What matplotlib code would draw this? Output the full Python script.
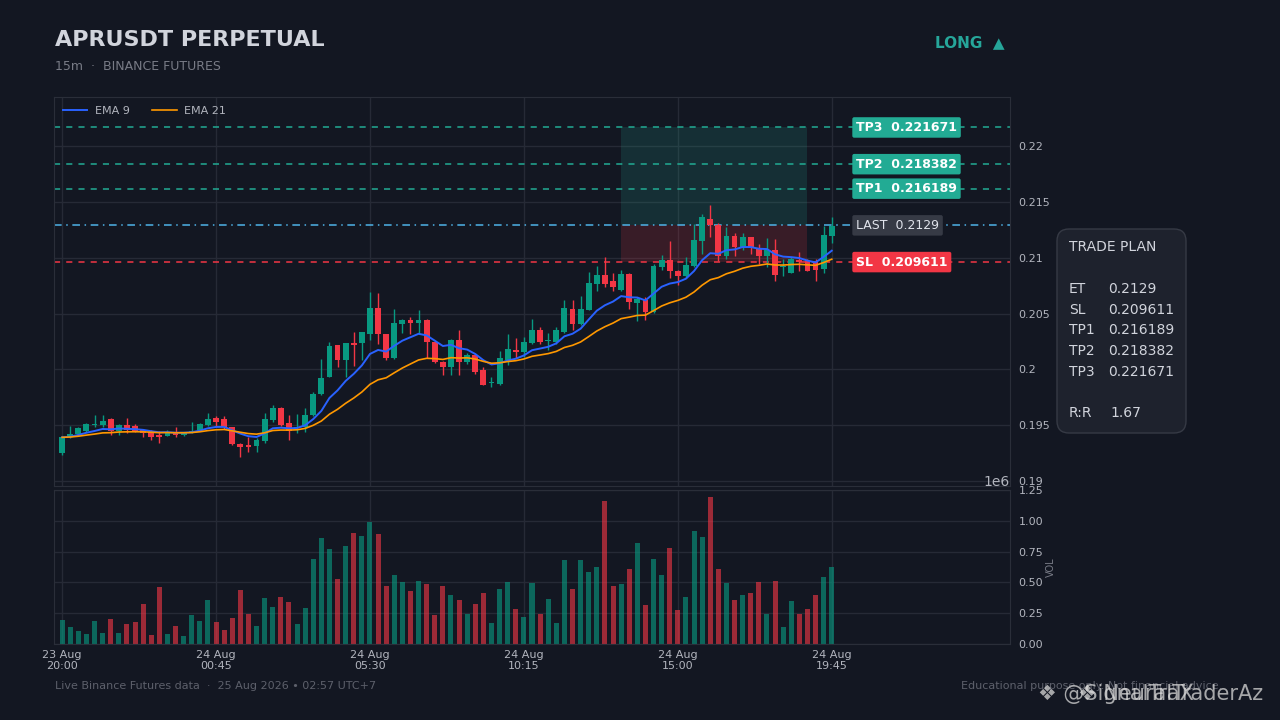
import matplotlib
matplotlib.use("Agg")
import matplotlib.pyplot as plt
import numpy as np
import pandas as pd
from matplotlib.patches import FancyBboxPatch
from matplotlib.ticker import FuncFormatter

# --- data (15m candles, 23 Aug 20:00 -> 24 Aug 19:45) ---
opens = [0.19248, 0.19391, 0.19420, 0.19451, 0.19499, 0.19499, 0.19556, 0.19451, 0.19499, 0.19493,
         0.19457, 0.19442, 0.19413, 0.19406, 0.19442, 0.19413, 0.19433, 0.19457, 0.19505, 0.19562,
         0.19556, 0.19487, 0.19331, 0.19325, 0.19313, 0.19361, 0.19546, 0.19653, 0.19517, 0.19475,
         0.19487, 0.19594, 0.19778, 0.19933, 0.20217, 0.20083, 0.20238, 0.20232, 0.20316, 0.20549,
         0.20313, 0.20104, 0.20405, 0.20441, 0.20417, 0.20441, 0.20247, 0.20068, 0.20018, 0.20261,
         0.20068, 0.20128, 0.19990, 0.19878, 0.19869, 0.20083, 0.20172, 0.20154, 0.20238, 0.20357,
         0.20253, 0.20247, 0.20336, 0.20545, 0.20410, 0.20536, 0.20769, 0.20843, 0.20792, 0.20709,
         0.20852, 0.20590, 0.20620, 0.20515, 0.20915, 0.20984, 0.20880, 0.20835, 0.20927, 0.21151,
         0.21351, 0.21297, 0.21013, 0.21199, 0.21100, 0.21184, 0.21079, 0.21013, 0.21067, 0.20915,
         0.20867, 0.20984, 0.20975, 0.20960, 0.20903, 0.21195]
closes = [0.19391, 0.19420, 0.19474, 0.19511, 0.19511, 0.19538, 0.19451, 0.19499, 0.19457, 0.19451,
          0.19433, 0.19397, 0.19397, 0.19442, 0.19413, 0.19433, 0.19451, 0.19511, 0.19556, 0.19532,
          0.19487, 0.19331, 0.19307, 0.19307, 0.19367, 0.19556, 0.19653, 0.19499, 0.19451, 0.19487,
          0.19594, 0.19778, 0.19921, 0.20208, 0.20083, 0.20235, 0.20214, 0.20337, 0.20549, 0.20316,
          0.20104, 0.20417, 0.20441, 0.20411, 0.20441, 0.20247, 0.20068, 0.20018, 0.20261, 0.20068,
          0.20128, 0.19979, 0.19860, 0.19890, 0.20098, 0.20181, 0.20157, 0.20244, 0.20357, 0.20247,
          0.20265, 0.20357, 0.20548, 0.20410, 0.20545, 0.20775, 0.20843, 0.20769, 0.20739, 0.20852,
          0.20604, 0.20634, 0.20515, 0.20924, 0.20984, 0.20883, 0.20835, 0.20933, 0.21157, 0.21366,
          0.21291, 0.21013, 0.21199, 0.21100, 0.21184, 0.21094, 0.21019, 0.21067, 0.20843, 0.20927,
          0.20987, 0.20963, 0.20885, 0.20891, 0.21207, 0.21285]
highs = [0.19404, 0.19491, 0.19486, 0.19517, 0.19588, 0.19588, 0.19565, 0.19511, 0.19565, 0.19511,
         0.19470, 0.19460, 0.19448, 0.19455, 0.19487, 0.19440, 0.19531, 0.19517, 0.19612, 0.19580,
         0.19580, 0.19487, 0.19340, 0.19397, 0.19385, 0.19606, 0.19680, 0.19665, 0.19588, 0.19600,
         0.19650, 0.19800, 0.20094, 0.20244, 0.20217, 0.20235, 0.20331, 0.20337, 0.20695, 0.20681,
         0.20320, 0.20543, 0.20450, 0.20470, 0.20534, 0.20450, 0.20250, 0.20075, 0.20270, 0.20357,
         0.20150, 0.20140, 0.20020, 0.19930, 0.20166, 0.20321, 0.20285, 0.20291, 0.20447, 0.20380,
         0.20330, 0.20380, 0.20625, 0.20625, 0.20655, 0.20873, 0.20924, 0.21007, 0.20860, 0.20888,
         0.20860, 0.20650, 0.20650, 0.20942, 0.21028, 0.21148, 0.20890, 0.21007, 0.21306, 0.21390,
         0.21473, 0.21310, 0.21273, 0.21220, 0.21220, 0.21190, 0.21120, 0.21178, 0.21172, 0.20990,
         0.21005, 0.21050, 0.20990, 0.20990, 0.21288, 0.21366]
lows = [0.19233, 0.19385, 0.19404, 0.19442, 0.19487, 0.19487, 0.19413, 0.19413, 0.19427, 0.19440,
        0.19391, 0.19367, 0.19343, 0.19400, 0.19397, 0.19405, 0.19430, 0.19450, 0.19490, 0.19487,
        0.19470, 0.19322, 0.19212, 0.19260, 0.19263, 0.19340, 0.19530, 0.19490, 0.19367, 0.19430,
        0.19440, 0.19580, 0.19770, 0.19930, 0.20023, 0.19933, 0.20029, 0.20080, 0.20262, 0.20230,
        0.20080, 0.20095, 0.20330, 0.20320, 0.20320, 0.20098, 0.20053, 0.19951, 0.19951, 0.19950,
        0.20050, 0.19958, 0.19857, 0.19840, 0.19860, 0.20038, 0.20100, 0.20110, 0.20225, 0.20230,
        0.20170, 0.20230, 0.20330, 0.20350, 0.20395, 0.20530, 0.20700, 0.20739, 0.20700, 0.20700,
        0.20545, 0.20435, 0.20441, 0.20505, 0.20890, 0.20814, 0.20754, 0.20820, 0.20920, 0.21033,
        0.21187, 0.20974, 0.20990, 0.21020, 0.21070, 0.21030, 0.20945, 0.20915, 0.20793, 0.20840,
        0.20860, 0.20880, 0.20880, 0.20793, 0.20861, 0.21136]
volumes = [0.196, 0.139, 0.106, 0.082, 0.188, 0.090, 0.204, 0.090, 0.163, 0.180,
           0.327, 0.074, 0.466, 0.082, 0.147, 0.065, 0.237, 0.188, 0.360, 0.180,
           0.114, 0.212, 0.441, 0.240, 0.147, 0.376, 0.302, 0.384, 0.343, 0.163,
           0.294, 0.686, 0.858, 0.768, 0.531, 0.792, 0.899, 0.874, 0.991, 0.890,
           0.474, 0.564, 0.507, 0.433, 0.515, 0.490, 0.237, 0.474, 0.400, 0.360,
           0.240, 0.327, 0.417, 0.172, 0.449, 0.507, 0.286, 0.221, 0.493, 0.240,
           0.368, 0.172, 0.678, 0.449, 0.678, 0.588, 0.629, 1.160, 0.474, 0.490,
           0.605, 0.817, 0.319, 0.686, 0.564, 0.776, 0.278, 0.384, 0.915, 0.866,
           1.193, 0.605, 0.493, 0.360, 0.400, 0.417, 0.507, 0.240, 0.515, 0.139,
           0.351, 0.240, 0.286, 0.400, 0.547, 0.629]  # millions

start_time = "2026-08-23 20:00"
entry_price = 0.2129
stop_loss = 0.209611
tp_names = ["TP1", "TP2", "TP3"]
tp_levels = [0.216189, 0.218382, 0.221671]
zone_start, zone_end = 69, 92
tick_idx = [0, 19, 38, 57, 76, 95]

BG = "#131722"
GRID = "#262a36"
UP = "#089981"
DOWN = "#f23645"
TP_COL = "#22ab94"
TXT = "#b2b5be"
DIM = "#787b86"


def ema(values, span):
    return pd.Series(values).ewm(span=span, adjust=False).mean().to_numpy()


def main():
    o = np.array(opens)
    c = np.array(closes)
    h = np.array(highs)
    l = np.array(lows)
    v = np.array(volumes) * 1e6
    x = np.arange(len(c))
    times = pd.date_range(start_time, periods=len(c), freq="15min")
    up = c >= o

    fig = plt.figure(figsize=(12.8, 7.2), dpi=100, facecolor=BG)
    ax = fig.add_axes([54 / 1280, 1 - 486 / 720, 956 / 1280, 389 / 720], facecolor=BG)
    axv = fig.add_axes([54 / 1280, 1 - 644 / 720, 956 / 1280, 154 / 720], facecolor=BG, sharex=ax)

    for a in (ax, axv):
        for s in a.spines.values():
            s.set_color("#2a2e39")
        a.grid(True, color=GRID, linewidth=1)
        a.set_axisbelow(True)
        a.yaxis.tick_right()
        a.tick_params(colors=TXT, labelsize=8, length=0, pad=6)

    # trade zones
    ax.fill_between([zone_start, zone_end], entry_price, tp_levels[-1], color=TP_COL, alpha=0.17, lw=0)
    ax.fill_between([zone_start, zone_end], stop_loss, entry_price, color=DOWN, alpha=0.17, lw=0)

    # candles
    cols = np.where(up, UP, DOWN)
    ax.vlines(x, l, h, colors=cols, linewidth=1, zorder=3)
    body = np.maximum(np.abs(c - o), 0.00004)
    ax.bar(x, body, bottom=np.minimum(o, c), width=0.72, color=cols, zorder=4)

    ax.plot(x, ema(c, 9), color="#2962ff", lw=1.4, label="EMA 9", zorder=5)
    ax.plot(x, ema(c, 21), color="#ff9800", lw=1.2, label="EMA 21", zorder=5)

    # levels
    for name, lvl in zip(tp_names, tp_levels):
        ax.axhline(lvl, color=TP_COL, lw=1.1, ls=(0, (4, 4)), zorder=2)
        ax.text(98, lvl, f"{name}  {lvl:g}", color="white", fontsize=9, fontweight="bold",
                va="center", ha="left", zorder=6,
                bbox=dict(boxstyle="round,pad=0.3,rounding_size=0.15", fc=TP_COL, ec="none"))
    ax.axhline(entry_price, color="#4fb3e8", lw=1.1, ls=(0, (5, 3, 1, 3)), zorder=2)
    ax.text(98, entry_price, f"LAST  {entry_price:g}", color="#e0e3eb", fontsize=9,
            va="center", ha="left", zorder=6,
            bbox=dict(boxstyle="round,pad=0.3,rounding_size=0.15", fc="#363a45", ec="none"))
    ax.axhline(stop_loss, color=DOWN, lw=1.1, ls=(0, (4, 4)), zorder=2)
    ax.text(98, stop_loss, f"SL  {stop_loss:g}", color="white", fontsize=9, fontweight="bold",
            va="center", ha="left", zorder=6,
            bbox=dict(boxstyle="round,pad=0.3,rounding_size=0.15", fc=DOWN, ec="none"))

    ax.set_xlim(-1, 117)
    ax.set_ylim(0.18955, 0.2244)
    ax.set_yticks([0.19, 0.195, 0.2, 0.205, 0.21, 0.215, 0.22])
    ax.yaxis.set_major_formatter(FuncFormatter(lambda val, _: f"{val:g}"))
    ax.tick_params(labelbottom=False)
    ax.legend(loc="upper left", ncol=2, frameon=False, fontsize=8, labelcolor=TXT,
              handlelength=2.2, handletextpad=0.7, borderaxespad=0.4, columnspacing=2.0)

    # volume
    vcols = np.where(up, UP, DOWN)
    axv.bar(x, v, width=0.62, color=vcols, alpha=0.62)
    axv.set_ylim(0, 1.25e6)
    axv.set_yticks(np.arange(0, 1.26e6, 0.25e6))
    axv.yaxis.set_label_position("right")
    axv.set_ylabel("VOL", color=DIM, fontsize=7, labelpad=2)
    axv.yaxis.get_offset_text().set_color(TXT)
    axv.yaxis.get_offset_text().set_fontsize(10)
    axv.set_xticks(tick_idx)
    axv.set_xticklabels([times[i].strftime("%d %b\n%H:%M") for i in tick_idx])
    axv.tick_params(axis="x", pad=4)

    # headers
    fig.text(55 / 1280, 1 - 40 / 720, "APRUSDT PERPETUAL", color="#d1d4dc", fontsize=16,
             fontweight="bold", va="center")
    fig.text(55 / 1280, 1 - 66 / 720, "15m  ·  BINANCE FUTURES", color=DIM, fontsize=9, va="center")
    fig.text(935 / 1280, 1 - 43 / 720, "LONG  ▲", color="#26a69a", fontsize=11,
             fontweight="bold", va="center")

    # trade plan box
    r = 0.12
    box = FancyBboxPatch((10.57 + r, 2.87 + r), 1.29 - 2 * r, 2.04 - 2 * r,
                         boxstyle=f"round,pad={r},rounding_size={r}",
                         transform=fig.dpi_scale_trans, fc="#1e222d", ec="#363a45", lw=1)
    fig.patches.append(box)
    fig.text(1069 / 1280, 1 - 247 / 720, "TRADE PLAN", color="#d1d4dc", fontsize=10, va="center")
    rows = [("ET", entry_price), ("SL", stop_loss)] + list(zip(tp_names, tp_levels))
    for k, (name, val) in enumerate(rows):
        yy = 1 - (289 + 20.7 * k) / 720
        fig.text(1069 / 1280, yy, name, color="#d1d4dc", fontsize=10, va="center")
        fig.text(1108 / 1280, yy, f"{val:g}", color="#d1d4dc", fontsize=10, va="center")
    rr = (tp_levels[1] - entry_price) / (entry_price - stop_loss)
    fig.text(1069 / 1280, 1 - 413 / 720, "R:R", color="#d1d4dc", fontsize=10, va="center")
    fig.text(1110 / 1280, 1 - 413 / 720, f"{rr:.2f}", color="#d1d4dc", fontsize=10, va="center")

    # footer
    fig.text(55 / 1280, 1 - 686 / 720, "Live Binance Futures data  ·  25 Aug 2026 • 02:57 UTC+7",
             color="#5d606b", fontsize=8, va="center")
    fig.text(961 / 1280, 1 - 686 / 720, "Educational purpose only. Not financial advice.",
             color="#5d606b", fontsize=8, va="center")
    # two watermarks sit on top of each other in the reference
    fig.text(1038 / 1280, 1 - 694 / 720, "❖ @SignalTraX", color="#d8d8d8", alpha=0.75,
             fontsize=15, va="center")
    fig.text(1078 / 1280, 1 - 694 / 720, "❖ NeuralTraderAz", color="#d8d8d8", alpha=0.75,
             fontsize=15, va="center")

    fig.savefig("out.png", dpi=100, facecolor=BG)


if __name__ == "__main__":
    main()
